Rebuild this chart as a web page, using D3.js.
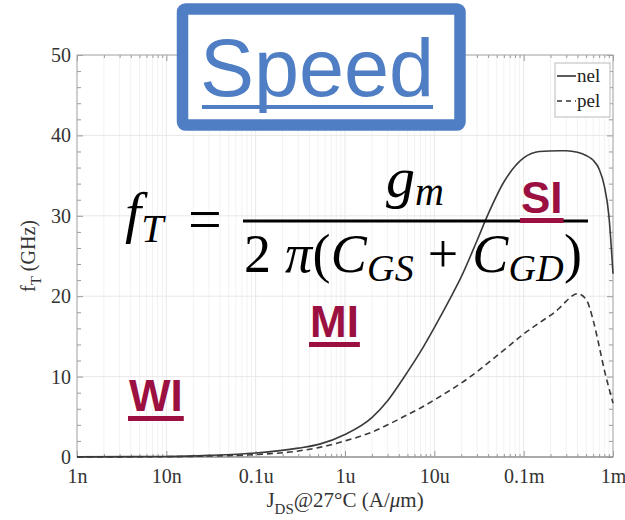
<!DOCTYPE html>
<html>
<head>
<meta charset="utf-8">
<script src="https://cdn.jsdelivr.net/npm/d3@7"></script>
<style>
  body { margin: 0; background: #fff; }
  svg { display: block; }
</style>
</head>
<body>
<svg id="chart" width="625" height="520"></svg>
<script>
// current density (A/um), log spaced
var jds = [1e-9, 1e-8, 3e-8, 1e-7, 3e-7, 5.2e-7, 1e-6, 2e-6, 3e-6, 4.5e-6, 7e-6, 1e-5, 1.5e-5, 2e-5, 3e-5, 4e-5, 6e-5, 1e-4, 1.5e-4, 2.5e-4, 3e-4, 4e-4, 5e-4, 6e-4, 7e-4, 8e-4, 9e-4, 1e-3];
var nel = [0.02, 0.07, 0.2, 0.5, 1.1, 1.6, 2.8, 4.9, 7.0, 9.8, 13.1, 16.1, 19.7, 22.4, 26.9, 30.2, 34.2, 37.2, 38.0, 38.1, 38.1, 37.9, 37.5, 36.9, 35.8, 33.7, 30.0, 22.8];
var pel = [0.01, 0.04, 0.12, 0.3, 0.75, 1.2, 2.0, 3.1, 4.0, 5.0, 6.1, 7.1, 8.3, 9.2, 10.6, 11.7, 13.3, 15.3, 16.7, 18.5, 19.4, 20.3, 19.6, 17.0, 13.8, 10.8, 8.6, 6.7];

var xTickVals = [1e-9, 1e-8, 1e-7, 1e-6, 1e-5, 1e-4, 1e-3];
var xTickLabels = ["1n", "10n", "0.1u", "1u", "10u", "0.1m", "1m"];
var yTickVals = [0, 10, 20, 30, 40, 50];
var regions = ["WI", "MI", "SI"];
var legendNames = ["nel", "pel"];

var svg = d3.select("#chart");
var m = {left: 77, right: 613, top: 55, bottom: 457};
var serif = "'Liberation Serif', 'Times New Roman', serif";
var sans = "'Liberation Sans', Arial, sans-serif";

var x = d3.scaleLog().domain([1e-9, 1e-3]).range([m.left, m.right]);
var y = d3.scaleLinear().domain([0, 50]).range([m.bottom, m.top]);

// minor values
var xMinor = [];
for (var e = -9; e < -3; e++) {
    for (var k = 2; k <= 9; k++) xMinor.push(k * Math.pow(10, e));
}
var yMinor = d3.range(0, 51, 2).filter(function(v) { return v % 10 != 0; });

// grid
var grid = svg.append("g");
grid.selectAll(".gx").data(xMinor).enter().append("line")
    .attr("x1", function(d) { return x(d); }).attr("x2", function(d) { return x(d); })
    .attr("y1", m.top).attr("y2", m.bottom)
    .attr("stroke", "#f2f2f2").attr("stroke-width", 1);
grid.selectAll(".gX").data(xTickVals).enter().append("line")
    .attr("x1", function(d) { return x(d); }).attr("x2", function(d) { return x(d); })
    .attr("y1", m.top).attr("y2", m.bottom)
    .attr("stroke", "#e8e8e8").attr("stroke-width", 1);
grid.selectAll(".gy").data(yTickVals).enter().append("line")
    .attr("x1", m.left).attr("x2", m.right)
    .attr("y1", function(d) { return y(d); }).attr("y2", function(d) { return y(d); })
    .attr("stroke", "#e8e8e8").attr("stroke-width", 1);

// axes (ticks pointing inward, MATLAB style)
function styleAxis(g) {
    g.select(".domain").remove();
    g.selectAll(".tick line").attr("stroke", "#999");
    g.selectAll(".tick text").attr("fill", "#333").attr("font-family", serif).attr("font-size", "20px");
}
svg.append("g").attr("transform", "translate(0," + m.bottom + ")")
    .call(d3.axisBottom(x).tickValues(xTickVals).tickFormat(function(d, i) { return xTickLabels[i]; }).tickSize(-6).tickPadding(12))
    .call(styleAxis);
svg.append("g").attr("transform", "translate(0," + m.bottom + ")")
    .call(d3.axisBottom(x).tickValues(xMinor).tickFormat("").tickSize(-3))
    .call(styleAxis);
svg.append("g").attr("transform", "translate(0," + m.top + ")")
    .call(d3.axisTop(x).tickValues(xTickVals).tickFormat("").tickSize(-6))
    .call(styleAxis);
svg.append("g").attr("transform", "translate(0," + m.top + ")")
    .call(d3.axisTop(x).tickValues(xMinor).tickFormat("").tickSize(-3))
    .call(styleAxis);
svg.append("g").attr("transform", "translate(" + m.left + ",0)")
    .call(d3.axisLeft(y).tickValues(yTickVals).tickSize(-6).tickPadding(6))
    .call(styleAxis);
svg.append("g").attr("transform", "translate(" + m.left + ",0)")
    .call(d3.axisLeft(y).tickValues(yMinor).tickFormat("").tickSize(-4))
    .call(styleAxis);
svg.append("g").attr("transform", "translate(" + m.right + ",0)")
    .call(d3.axisRight(y).tickValues(yTickVals).tickFormat("").tickSize(-6))
    .call(styleAxis);
svg.append("g").attr("transform", "translate(" + m.right + ",0)")
    .call(d3.axisRight(y).tickValues(yMinor).tickFormat("").tickSize(-4))
    .call(styleAxis);

svg.append("rect")
    .attr("x", m.left).attr("y", m.top)
    .attr("width", m.right - m.left).attr("height", m.bottom - m.top)
    .attr("fill", "none").attr("stroke", "#aaa").attr("stroke-width", 1);
svg.append("line")
    .attr("x1", m.left).attr("x2", m.right).attr("y1", m.bottom).attr("y2", m.bottom)
    .attr("stroke", "#888").attr("stroke-width", 1.2);

// curves
var line = d3.line()
    .x(function(d) { return x(d[0]); })
    .y(function(d) { return y(d[1]); })
    .curve(d3.curveMonotoneX);

svg.append("path")
    .datum(jds.map(function(j, i) { return [j, nel[i]]; }))
    .attr("d", line)
    .attr("fill", "none").attr("stroke", "#3a3a3a").attr("stroke-width", 1.6);
svg.append("path")
    .datum(jds.map(function(j, i) { return [j, pel[i]]; }))
    .attr("d", line)
    .attr("fill", "none").attr("stroke", "#3a3a3a").attr("stroke-width", 1.6)
    .attr("stroke-dasharray", "6,4");

// axis labels
var yl = svg.append("text")
    .attr("transform", "translate(35," + ((m.top + m.bottom) / 2) + ") rotate(-90)")
    .attr("text-anchor", "middle")
    .attr("font-family", serif).attr("font-size", "20px").attr("fill", "#333");
yl.append("tspan").text("f");
yl.append("tspan").text("T").attr("font-size", "15px").attr("dy", 6);
yl.append("tspan").text(" (GHz)").attr("dy", -6);

var xl = svg.append("text")
    .attr("x", 345).attr("y", 507)
    .attr("text-anchor", "middle")
    .attr("font-family", serif).attr("font-size", "21px").attr("fill", "#333");
xl.append("tspan").text("J");
xl.append("tspan").text("DS").attr("font-size", "15px").attr("dy", 7);
xl.append("tspan").text("@27°C (A/").attr("dy", -7);
xl.append("tspan").text("μ").attr("font-style", "italic");
xl.append("tspan").text("m)");

// legend
var lg = svg.append("g");
lg.append("rect").attr("x", 555).attr("y", 63).attr("width", 55).attr("height", 54)
    .attr("fill", "#fff").attr("stroke", "#bbb");
legendNames.forEach(function(name, i) {
    var ly = 76 + i * 25;
    lg.append("line").attr("x1", 557).attr("x2", 576).attr("y1", ly).attr("y2", ly)
        .attr("stroke", "#333").attr("stroke-width", 1.6)
        .attr("stroke-dasharray", i ? "5,4" : null);
    lg.append("text").attr("x", 577).attr("y", ly + 6)
        .attr("font-family", serif).attr("font-size", "19px").attr("fill", "#222")
        .text(name);
});

// "Speed" title box
svg.append("rect")
    .attr("x", 182.5).attr("y", 9).attr("width", 277.5).attr("height", 116)
    .attr("rx", 3)
    .attr("fill", "#fff").attr("stroke", "#4f7ec4").attr("stroke-width", 11.5);
svg.append("text")
    .attr("x", 317).attr("y", 96)
    .attr("text-anchor", "middle")
    .attr("font-family", sans).attr("font-size", "81px").attr("fill", "#4f7ec4")
    .text("Speed");
svg.append("rect").attr("x", 202).attr("y", 105).attr("width", 231).attr("height", 4).attr("fill", "#4f7ec4");

// formula
var f1 = svg.append("text").attr("x", 125).attr("y", 232)
    .attr("font-family", serif).attr("font-style", "italic").attr("font-size", "58px").attr("fill", "#000");
f1.append("tspan").text("f");
f1.append("tspan").text("T").attr("font-size", "40px").attr("dy", 10);
svg.append("text").attr("x", 205).attr("y", 239)
    .attr("text-anchor", "middle")
    .attr("font-family", serif).attr("font-size", "60px").attr("fill", "#000").text("=");
svg.append("rect").attr("x", 243).attr("y", 219.5).attr("width", 345).attr("height", 3).attr("fill", "#000");
var num = svg.append("text").attr("x", 415).attr("y", 197)
    .attr("text-anchor", "middle")
    .attr("font-family", serif).attr("font-style", "italic").attr("font-size", "58px").attr("fill", "#000");
num.append("tspan").text("g");
num.append("tspan").text("m").attr("font-size", "40px").attr("dy", 8);
var den = svg.append("text").attr("x", 413).attr("y", 272)
    .attr("text-anchor", "middle")
    .attr("font-family", serif).attr("font-size", "54px").attr("fill", "#000")
    .attr("textLength", 338).attr("lengthAdjust", "spacing");
den.append("tspan").text("2 ");
den.append("tspan").text("π").attr("font-style", "italic");
den.append("tspan").text("(");
den.append("tspan").text("C").attr("font-style", "italic");
den.append("tspan").text("GS").attr("font-style", "italic").attr("font-size", "38px").attr("dy", 9);
den.append("tspan").text(" + ").attr("dy", -9);
den.append("tspan").text("C").attr("font-style", "italic");
den.append("tspan").text("GD").attr("font-style", "italic").attr("font-size", "38px").attr("dy", 9);
den.append("tspan").text(")").attr("dy", -9);

// operating regions
var regionPos = [[129, 411], [310, 337], [521, 213]];
regions.forEach(function(r, i) {
    var t = svg.append("text")
        .attr("x", regionPos[i][0]).attr("y", regionPos[i][1])
        .attr("font-family", sans).attr("font-weight", "bold").attr("font-size", "44px")
        .attr("fill", "#9b1040").text(r);
    var w = t.node().getComputedTextLength();
    svg.append("rect").attr("x", regionPos[i][0] - 1).attr("y", regionPos[i][1] + 5)
        .attr("width", w + 2).attr("height", 5).attr("fill", "#9b1040");
});
</script>
</body>
</html>
